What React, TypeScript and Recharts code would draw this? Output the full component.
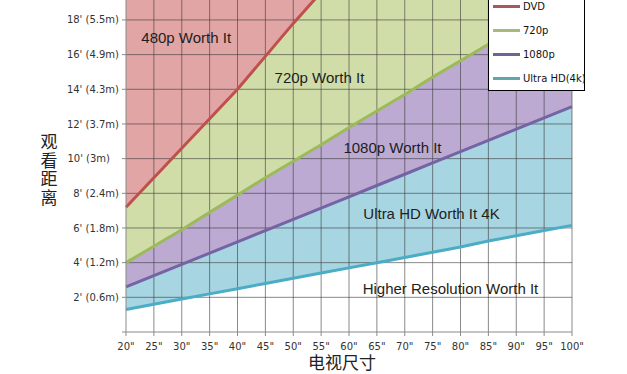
import {
  ComposedChart,
  Area,
  Line,
  XAxis,
  YAxis,
  CartesianGrid,
  ReferenceLine,
  ReferenceDot,
  Legend,
} from 'recharts'

// screen size in inches
const sizes = [20, 25, 30, 35, 40, 45, 50, 55, 60, 65, 70, 75, 80, 85, 90, 95, 100]

// viewing distance in feet
const dvd = [7.2, 8.9, 10.6, 12.3, 14.0, 15.9, 17.8, 19.6, 21.4, 23.2, 25.0, 26.8, 28.6, 30.4, 32.2, 34.0, 35.8]
const p720 = [4.0, 4.95, 5.9, 6.9, 7.9, 8.9, 9.85, 10.8, 11.8, 12.75, 13.7, 14.7, 15.65, 16.6, 17.6, 18.55, 19.5]
const p1080 = [2.6, 3.25, 3.9, 4.55, 5.2, 5.85, 6.5, 7.15, 7.8, 8.45, 9.1, 9.75, 10.4, 11.05, 11.7, 12.35, 13.0]
const uhd = [1.3, 1.6, 1.9, 2.2, 2.5, 2.8, 3.1, 3.4, 3.7, 4.0, 4.3, 4.6, 4.9, 5.25, 5.55, 5.85, 6.15]

const yTicks = [0, 2, 4, 6, 8, 10, 12, 14, 16, 18]
const yTickLabels = ['', "2' (0.6m)", "4' (1.2m)", "6' (1.8m)", "8' (2.4m)", "10' (3m)", "12' (3.7m)", "14' (4.3m)", "16' (4.9m)", "18' (5.5m)"]

const seriesNames = ['DVD', '720p', '1080p', 'Ultra HD(4k)']
const regionTexts = ['480p Worth It', '720p Worth It', '1080p Worth It', 'Ultra HD Worth It 4K', 'Higher Resolution Worth It']
const regionSizes = [30.8, 54.7, 67.8, 74.8, 78.2]
const regionFeet = [16.95, 14.65, 10.65, 6.85, 2.5]

const rows = sizes.map((s, i) => ({
  size: s,
  dvd: dvd[i],
  p720: p720[i],
  p1080: p1080[i],
  uhd: uhd[i],
}))

const lineColors = ['#c0504d', '#9bbb59', '#7464a4', '#4bacc6']
const legendColors = ['#a65a5b', '#a9b97d', '#6e658f', '#5fa7ae']
const fills = {
  red: '#e1a5a5',
  green: '#d0dda8',
  purple: '#bcaad2',
  blue: '#a7d5e1',
}
const gridStroke = '#3a3a3a'
const tickFont = { fill: '#333', fontSize: 10, fontFamily: 'DejaVu Sans' }

// y tick: the short "10' (3m)" label sits left-aligned with the others
function YTick(props: any) {
  const { x, y, payload } = props
  const label = yTickLabels[yTicks.indexOf(payload.value)] ?? ''
  const dx = label.length < 9 && payload.value >= 10 ? -9 : 0
  return (
    <text x={x + dx} y={y} dy="0.355em" textAnchor="end" {...tickFont}>
      {label}
    </text>
  )
}

// vertical, upright CJK title
function YTitle(props: any) {
  const x = (props.viewBox?.x ?? 0) + 49
  return (
    <text
      x={x}
      y={133}
      fontSize={17}
      letterSpacing={1.7}
      fontFamily="Noto Sans CJK SC"
      fill="#222"
      style={{ writingMode: 'vertical-rl', textOrientation: 'upright' }}
    >
      观看距离
    </text>
  )
}

function LegendBox() {
  return (
    <div
      style={{
        width: 97,
        height: 97,
        boxSizing: 'border-box',
        border: '1px solid #000',
        background: '#fff',
        position: 'relative',
      }}
    >
      {seriesNames.map((name, i) => (
        <div
          key={name}
          style={{
            position: 'absolute',
            left: 4,
            top: 11.7 + i * 23.8 - 7,
            height: 14,
            display: 'flex',
            alignItems: 'center',
          }}
        >
          <span
            style={{
              display: 'inline-block',
              width: 27,
              height: 3,
              background: legendColors[i],
              marginRight: 3,
            }}
          />
          <span
            style={{
              fontSize: 10,
              fontFamily: 'DejaVu Sans',
              color: '#111',
              whiteSpace: 'nowrap',
            }}
          >
            {name}
          </span>
        </div>
      ))}
    </div>
  )
}

export default function App() {
  return (
    <div style={{ position: 'absolute', left: 0, top: 0, width: 627, height: 374, background: '#fff' }}>
      <ComposedChart
        width={627}
        height={374}
        data={rows}
        margin={{ top: 0, right: 55, bottom: 0, left: 0 }}
      >
        <CartesianGrid fill={fills.red} stroke="none" />
        <XAxis
          type="number"
          dataKey="size"
          domain={[20, 100]}
          ticks={sizes}
          tickFormatter={(v) => `${v}"`}
          height={42}
          tickSize={4}
          tickMargin={7}
          stroke="#8a8a8a"
          tick={tickFont}
          label={{
            value: '电视尺寸',
            position: 'insideBottom',
            offset: 5,
            dx: -7,
            fontSize: 17,
            fill: '#222',
            fontFamily: 'Noto Sans CJK SC',
          }}
        />
        <YAxis
          type="number"
          domain={[0, 19.15]}
          ticks={yTicks}
          allowDataOverflow
          width={126}
          tickSize={4}
          tickMargin={3}
          stroke="#8a8a8a"
          tick={<YTick />}
          label={<YTitle />}
        />

        <Area dataKey="dvd" fill={fills.green} fillOpacity={1} stroke="none" legendType="none" isAnimationActive={false} />
        <Area dataKey="p720" fill={fills.purple} fillOpacity={1} stroke="none" legendType="none" isAnimationActive={false} />
        <Area dataKey="p1080" fill={fills.blue} fillOpacity={1} stroke="none" legendType="none" isAnimationActive={false} />
        <Area dataKey="uhd" fill="#ffffff" fillOpacity={1} stroke="none" legendType="none" isAnimationActive={false} />

        {sizes.slice(1).map((s) => (
          <ReferenceLine key={'x' + s} x={s} stroke={gridStroke} strokeOpacity={0.6} />
        ))}
        {yTicks.slice(1).map((t) => (
          <ReferenceLine key={'y' + t} y={t} stroke={gridStroke} strokeOpacity={0.6} />
        ))}

        <Line dataKey="dvd" name={seriesNames[0]} stroke={lineColors[0]} strokeWidth={3} dot={false} isAnimationActive={false} />
        <Line dataKey="p720" name={seriesNames[1]} stroke={lineColors[1]} strokeWidth={3} dot={false} isAnimationActive={false} />
        <Line dataKey="p1080" name={seriesNames[2]} stroke={lineColors[2]} strokeWidth={3} dot={false} isAnimationActive={false} />
        <Line dataKey="uhd" name={seriesNames[3]} stroke={lineColors[3]} strokeWidth={3} dot={false} isAnimationActive={false} />

        {regionTexts.map((t, i) => (
          <ReferenceDot
            key={t}
            x={regionSizes[i]}
            y={regionFeet[i]}
            r={0}
            fill="none"
            stroke="none"
            label={{
              value: t,
              position: 'center',
              fontSize: 15,
              fill: '#1e1e1e',
              fontFamily: 'Liberation Sans',
            }}
          />
        ))}

        <Legend
          layout="vertical"
          align="center"
          verticalAlign="middle"
          wrapperStyle={{ left: 488, top: -6, width: 97, height: 97 }}
          content={<LegendBox />}
        />
      </ComposedChart>
    </div>
  )
}
